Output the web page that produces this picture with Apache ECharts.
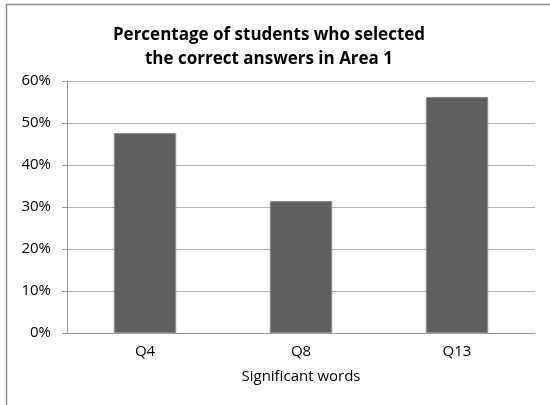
<!DOCTYPE html>
<html>
<head>
<meta charset="utf-8">
<script src="https://cdn.jsdelivr.net/npm/echarts@6/dist/echarts.min.js"></script>
<style>
html, body { margin: 0; padding: 0; background: #fff; }
#main { width: 550px; height: 405px; }
</style>
</head>
<body>
<div id="main"></div>
<script>
const categories = ['Q4', 'Q8', 'Q13'];
const percentCorrect = [47.6, 31.4, 56.2];
const yTicks = [0, 10, 20, 30, 40, 50, 60];

const chart = echarts.init(document.getElementById('main'));
const font = '"Open Sans", sans-serif';

chart.setOption({
  animation: false,
  backgroundColor: '#fff',
  graphic: [{
    type: 'rect',
    shape: { x: 6.5, y: 4.5, width: 560, height: 420 },
    style: { fill: 'none', stroke: '#8a8a8a', lineWidth: 1.5 }
  }],
  title: {
    text: 'Percentage of students who selected\nthe correct answers in Area 1',
    left: 264,
    textAlign: 'center',
    top: 18,
    textStyle: { fontFamily: font, fontSize: 17, fontWeight: 'bold', color: '#000', lineHeight: 24 }
  },
  grid: { left: 67, right: 15, top: 81, bottom: 72 },
  xAxis: {
    type: 'category',
    data: categories,
    name: 'Significant words',
    nameLocation: 'middle',
    nameGap: 36,
    nameTextStyle: { fontFamily: font, fontSize: 15, color: '#000' },
    axisLine: { lineStyle: { color: '#9a9a9a' } },
    axisTick: { show: false },
    axisLabel: { fontFamily: font, fontSize: 15, color: '#000', margin: 11 }
  },
  yAxis: {
    type: 'value',
    min: yTicks[0],
    max: yTicks[yTicks.length - 1],
    interval: 10,
    axisLine: { show: true, lineStyle: { color: '#9a9a9a' } },
    axisTick: { show: true, length: 5, lineStyle: { color: '#9a9a9a' } },
    axisLabel: { fontFamily: font, fontSize: 15, color: '#000', margin: 16, formatter: '{value}%' },
    splitLine: { lineStyle: { color: '#b4b4b4' } }
  },
  series: [{
    type: 'bar',
    data: percentCorrect,
    barWidth: '40%',
    itemStyle: { color: '#606060', borderColor: '#8c8c8c', borderWidth: 1 }
  }]
});
</script>
</body>
</html>
